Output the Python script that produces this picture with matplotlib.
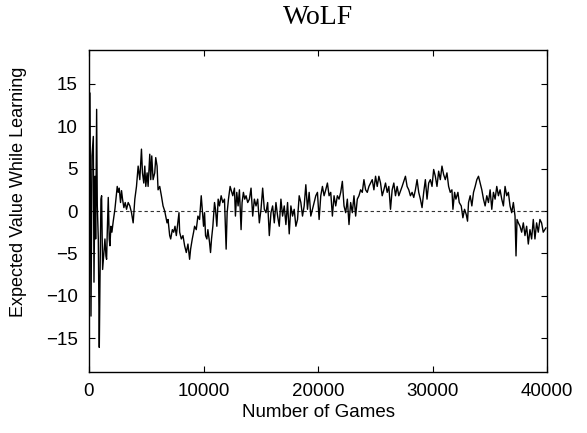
import numpy as np
import matplotlib.pyplot as plt

# expected value while learning
games = [
    87, 174, 261, 377, 435, 522, 580, 667, 725, 812, 899, 957, 1044, 1102, 1189,
    1305, 1392, 1479, 1537, 1595, 1682, 1769, 1827, 1914, 2001, 2117, 2262,
    2349, 2465, 2552, 2639, 2755, 2842, 2929, 3045, 3161, 3277, 3422, 3567,
    3712, 3857, 4002, 4147, 4292, 4437, 4582, 4669, 4785, 4872, 4959, 5075,
    5162, 5307, 5394, 5481, 5597, 5742, 5829, 5945, 6032, 6177, 6322, 6467,
    6612, 6699, 6815, 6902, 7047, 7134, 7279, 7395, 7511, 7627, 7772, 7859,
    7917, 8062, 8207, 8352, 8497, 8642, 8787, 8874, 9019, 9135, 9222, 9367,
    9512, 9657, 9802, 9889, 10005, 10092, 10179, 10295, 10382, 10527, 10614,
    10701, 10817, 10962, 11049, 11165, 11281, 11397, 11542, 11687, 11832,
    11977, 12064, 12180, 12325, 12412, 12557, 12702, 12789, 12905, 13021,
    13137, 13282, 13369, 13485, 13601, 13717, 13862,
    14007, 14152, 14297, 14442, 14587, 14732, 14877, 15022, 15167, 15312,
    15457, 15602, 15747, 15892, 16037, 16182, 16327, 16472, 16617, 16762,
    16907, 17052, 17197, 17342, 17487, 17632, 17777, 17922, 18067, 18212,
    18357, 18502, 18647, 18792, 18937, 19082, 19227, 19372, 19517, 19662,
    19807, 19952, 20097, 20242, 20387, 20532, 20677, 20822, 20967, 21112,
    21257, 21402, 21547, 21692, 21837, 21982, 22127, 22272, 22417, 22562,
    22707, 22852, 22997, 23142, 23287, 23432, 23577, 23722, 23867, 24012,
    24157, 24302, 24447, 24592, 24737, 24882, 25027, 25172, 25317, 25462,
    25607, 25752, 25897, 26042, 26187, 26332, 26477, 26622, 26767, 26912,
    27057, 27347, 27637, 27782, 27927, 28072, 28217, 28362, 28507, 28652,
    28797, 28942, 29087, 29232, 29377, 29522, 29667, 29812, 29957, 30102,
    30247, 30392, 30537, 30682, 30827, 30972, 31117, 31262, 31407, 31552,
    31697, 31784, 31929, 32045, 32219, 32335, 32509, 32654, 32799, 32944,
    33060, 33147, 33292, 33437, 33582, 33727, 33872, 34017, 34162, 34307,
    34452, 34597, 34742, 34887, 35032, 35177, 35322, 35467, 35612, 35757,
    35902, 36047, 36192, 36337, 36482, 36627, 36772, 36917, 37062, 37207,
    37294, 37381, 37497, 37642, 37787, 37932, 38077, 38222, 38367, 38512,
    38657, 38802, 38947, 39092, 39237, 39382, 39527, 39672, 39900,
]
value = [
    13.9, -12.4, 6.5, 8.8, -8.4, 4.1, -3.3, 12.0, 0.6, -3.3, -16.1, -8.4, 1.4, 1.8, -6.9,
    -4.9, -3.3, -5.3, -5.7, -2.5, 1.6, -3.3, -4.1, -1.8, -2.5, -1.2, 0.2,
    1.4, 2.9, 2.2, 2.7, 1.0, 2.4, 1.4, 0.4, 1.0, 0.2, 1.0, 0.6,
    -0.2, -1.4, 1.4, 2.9, 5.3, 3.7, 7.3, 4.5, 3.3, 5.3, 2.9, 4.5,
    2.9, 6.7, 3.7, 6.5, 3.7, 4.5, 6.3, 5.3, 2.5, 2.9, 1.8, 0.6,
    0.0, -0.6, -1.4, -1.0, -2.9, -3.3, -2.2, -2.5, -1.8, -2.9, -1.2, -0.2,
    -2.5, -3.3, -2.9, -4.1, -4.9, -3.9, -5.7, -4.5, -3.3, -2.5, -1.8, -2.2,
    -0.6, -1.0, 1.8, 0.2, -1.8, -0.2, -2.9, -3.3, -2.2, -3.7, -4.9,
    -3.3, -1.8, 1.0, 0.2, -1.8, 1.4, 0.6, 1.8, 1.0, 1.4,
    -4.5, -0.2, 1.4, 2.9, 2.5, 1.8, 2.7, -0.6, 2.2, 0.6,
    2.5, -2.2, 1.0, 2.2, 1.4, 1.8, 1.0,
    1.4, 2.7, -0.6, 1.4, 0.6, 1.4, -1.4, 0.2, 2.7, 0.2,
    -0.2, 1.0, -2.9, -0.2, 0.6, -1.4, 1.0, -0.6, -1.8, 1.4,
    -0.6, 0.6, -1.6, 1.0, -2.7, 0.6, -0.6, 0.2, -1.8, -1.0,
    1.8, 1.0, -0.6, 0.6, 3.1, 0.2, 2.2, -0.6, 0.2, 1.0,
    1.8, 2.2, -1.0, 1.8, 2.9, 1.8, 2.5, 3.3, 1.8, 2.2,
    -0.6, 1.8, 0.6, 1.8, 1.4, 2.2, 3.5, 0.6, -0.2, 1.4,
    -1.6, 1.0, -0.2, 1.8, -0.6, 1.4, 1.8, 2.5, 2.2, 3.7,
    2.5, 2.2, 2.9, 3.3, 3.7, 2.5, 4.1, 2.9, 4.1, 3.3,
    1.8, 2.5, 3.3, 2.2, 2.9, 0.2, 2.5, 3.3, 1.8, 2.9,
    1.8, 2.9, 4.1, 2.9, 2.5, 1.8, 2.2, 1.6, 2.5, 3.7,
    2.2, 1.4, 0.4, 2.2, 3.7, 1.4, 3.3, 3.7, 2.9, 4.9,
    4.1, 2.9, 4.7, 3.7, 5.3, 4.3, 3.7, 4.5, 2.9, 2.2,
    2.5, 0.2, 2.2, 1.4, 2.2, 1.0, 0.6, -0.8, 0.2, -0.4,
    -1.2, 1.0, 1.8, 0.6, 2.2, 2.9, 3.7, 4.1, 3.3, 2.5,
    1.4, 0.6, 1.8, 1.0, 2.5, 0.2, 2.2, 1.4, 2.9, 1.8,
    2.5, 1.4, 0.6, 2.9, 1.8, 2.2, 0.6, -0.2, 1.0, -0.6,
    -5.3, -1.0, -1.4, -1.8, -2.5, -1.4, -2.9, -1.8, -3.9, -2.2,
    -3.3, -1.0, -3.3, -1.4, -2.5, -1.0, -1.4, -2.5, -2.0,
]

x_ticks = [0, 10000, 20000, 30000, 40000]
y_ticks = [-15, -10, -5, 0, 5, 10, 15]

plt.rcParams["font.family"] = ["Liberation Sans", "DejaVu Sans"]

fig = plt.figure(figsize=(5.87, 4.33), dpi=100)
ax = fig.add_axes([89 / 587, 1 - 372 / 433, (547 - 89) / 587, (372 - 50) / 433])

ax.axhline(0, color="#333333", linestyle=(0, (3, 2.5)), linewidth=0.8)
ax.plot(games, value, color="black", linewidth=1.0)

ax.set_xlim(0, 40000)
ax.set_ylim(-19, 19)
ax.set_xticks(x_ticks)
ax.set_yticks(y_ticks)
ax.tick_params(direction="in", top=True, right=True, length=4, width=0.8,
               labelsize=13.5, pad=8)
for spine in ax.spines.values():
    spine.set_linewidth(1.0)

ax.set_xlabel("Number of Games", fontsize=13.5, labelpad=3)
ax.set_ylabel("Expected Value While Learning", fontsize=13)
ax.yaxis.set_label_coords(-0.135, 0.56)
ax.set_title("WoLF", fontsize=20, family="Liberation Serif", pad=19)

fig.savefig("out.png", dpi=100)
